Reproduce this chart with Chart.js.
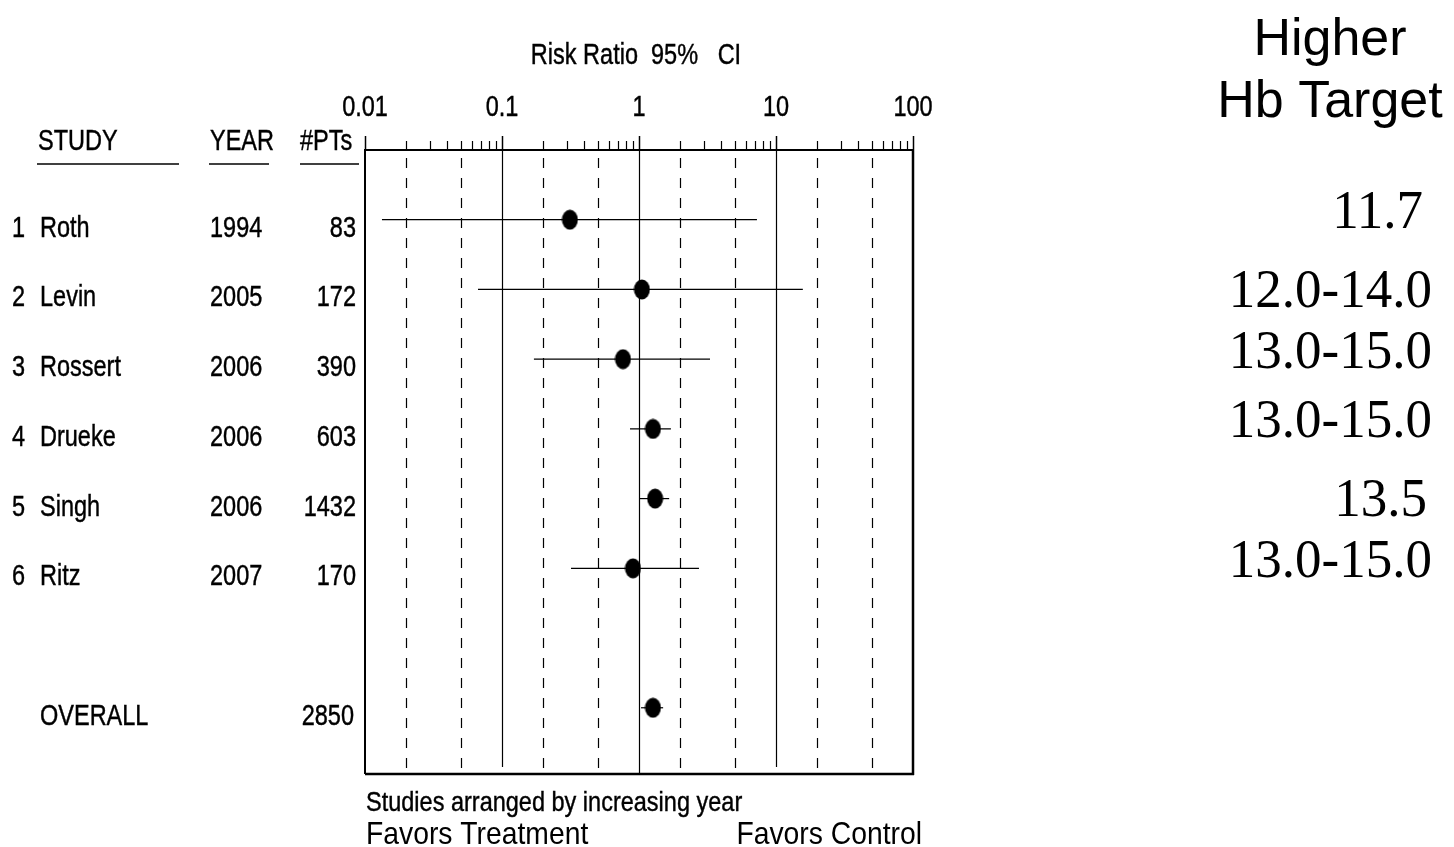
<!DOCTYPE html>
<html><head><meta charset="utf-8">
<script src="https://cdn.jsdelivr.net/npm/chart.js@4.4.1/dist/chart.umd.min.js"></script>
<style>html,body{margin:0;padding:0;background:#fff;overflow:hidden}#wrap{position:relative;width:1454px;height:847px}</style>
</head><body><div id="wrap"><canvas id="c" width="1454" height="847"></canvas></div>
<script>
// ---- data ----
const studies = ['Roth','Levin','Rossert','Drueke','Singh','Ritz'];
const years = [1994, 2005, 2006, 2006, 2006, 2007];
const patients = [83, 172, 390, 603, 1432, 170];
const riskRatio = [0.313, 1.05, 0.764, 1.265, 1.31, 0.904];
const ciLow = [0.0133, 0.0668, 0.171, 0.86, 1.0, 0.319];
const ciHigh = [7.26, 15.7, 3.3, 1.71, 1.66, 2.74];
const hbTargets = ['11.7', '12.0-14.0', '13.0-15.0', '13.0-15.0', '13.5', '13.0-15.0'];
const overallLabel = 'OVERALL';
const overallPatients = 2850;
const overallRR = [1.265];
const overallLow = [1.035];
const overallHigh = [1.5];
const tickValues = [0.01, 0.1, 1, 10, 100];
const tickLabels = ['0.01', '0.1', '1', '10', '100'];
const dashedLines = [0.02, 0.05, 0.2, 0.5, 2, 5, 20, 50];
const solidLines = [0.1, 1, 10];
const headers = ['STUDY', 'YEAR', '#PTs'];
const axisTitle = 'Risk Ratio  95%   CI';
const rightTitle = ['Higher', 'Hb Target'];
const footNote = 'Studies arranged by increasing year';
const favorsLeft = 'Favors Treatment';
const favorsRight = 'Favors Control';

// ---- layout ----
const SANS = '"Liberation Sans", Arial, sans-serif';
const SERIF = '"Liberation Serif", "Times New Roman", serif';
const condFont = '23.5px ' + SANS;
const condSY = 1.25;
const rowOf = i => i + 1;
const overallRow = 8;
const targetOffsets = [8, 18, 9, 8, 17, 9];
const targetRight = [1423, 1432, 1432, 1432, 1427, 1432];

function txt(ctx, s, x, y, align, font, sy, stroke) {
  ctx.save();
  ctx.font = font; ctx.textAlign = align; ctx.textBaseline = 'alphabetic';
  ctx.fillStyle = '#000';
  ctx.translate(x, y); ctx.scale(1, sy || 1);
  ctx.fillText(s, 0, 0);
  if (stroke) { ctx.strokeStyle = '#000'; ctx.lineWidth = stroke; ctx.strokeText(s, 0, 0); }
  ctx.restore();
}
function line(ctx, x1, y1, x2, y2, w, dash) {
  ctx.save();
  ctx.strokeStyle = '#000'; ctx.lineWidth = w;
  ctx.setLineDash(dash || []);
  ctx.beginPath(); ctx.moveTo(x1, y1); ctx.lineTo(x2, y2); ctx.stroke();
  ctx.restore();
}

// ellipse marker
const marker = document.createElement('canvas');
marker.width = 17; marker.height = 21;
(function () {
  const m = marker.getContext('2d');
  m.fillStyle = '#000';
  m.beginPath(); m.ellipse(8.5, 10.5, 8, 10, 0, 0, Math.PI * 2); m.fill();
})();

const ciDatasets = studies.map((s, i) => ({
  type: 'line', showLine: true, borderColor: '#000', borderWidth: 1.2, pointRadius: 0,
  data: [{x: ciLow[i], y: rowOf(i)}, {x: ciHigh[i], y: rowOf(i)}]
})).concat([{
  type: 'line', showLine: true, borderColor: '#000', borderWidth: 1.2, pointRadius: 0,
  data: [{x: overallLow[0], y: overallRow}, {x: overallHigh[0], y: overallRow}]
}]);

const pointData = riskRatio.map((v, i) => ({x: v, y: rowOf(i)})).concat([{x: overallRR[0], y: overallRow}]);

const forestPlugin = {
  id: 'forest',
  beforeDatasetsDraw(chart) {
    const ctx = chart.ctx, xs = chart.scales.x, a = chart.chartArea;
    solidLines.forEach(v => {
      const x = Math.round(xs.getPixelForValue(v)) + 0.5;
      line(ctx, x, a.top, x, v === 1 ? a.bottom : a.bottom - 7, 1.2);
    });
    dashedLines.forEach(v => {
      const x = Math.round(xs.getPixelForValue(v)) + 0.5;
      line(ctx, x, a.top + 8, x, a.bottom - 1, 1.2, [10, 10]);
    });
  },
  afterDatasetsDraw(chart) {
    const ctx = chart.ctx, xs = chart.scales.x, ys = chart.scales.y, a = chart.chartArea;
    const sw = 0.35;
    // frame
    line(ctx, a.left, a.top, a.left, a.bottom, 2);
    line(ctx, a.right, a.top, a.right, a.bottom + 1, 2.5);
    line(ctx, a.left, a.bottom, a.right + 1, a.bottom, 2.5);
    line(ctx, a.left - 1, a.top, a.right + 1, a.top, 2);
    // axis ticks
    for (let d = -2; d <= 1; d++) {
      for (let m = 2; m <= 9; m++) {
        const x = Math.round(xs.getPixelForValue(m * Math.pow(10, d))) + 0.5;
        line(ctx, x, a.top, x, a.top - 9, 1.2);
      }
    }
    tickValues.forEach((v, i) => {
      const x = Math.round(xs.getPixelForValue(v)) + 0.5;
      line(ctx, x, a.top, x, a.top - 14, 1.5);
      txt(ctx, tickLabels[i], xs.getPixelForValue(v), 116, 'center', condFont, condSY, sw);
    });
    txt(ctx, axisTitle, 636, 64, 'center', condFont, condSY, sw);
    // table headers
    txt(ctx, headers[0], 38, 150, 'left', condFont, condSY, sw);
    txt(ctx, headers[1], 210, 150, 'left', condFont, condSY, sw);
    txt(ctx, headers[2], 300, 150, 'left', condFont, condSY, sw);
    line(ctx, 37, 164, 179, 164, 1.5);
    line(ctx, 209, 164, 269, 164, 1.5);
    line(ctx, 300, 164, 359, 164, 1.5);
    // rows
    studies.forEach((s, i) => {
      const y = ys.getPixelForValue(rowOf(i)) + 17;
      txt(ctx, String(i + 1), 12, y, 'left', condFont, condSY, sw);
      txt(ctx, s, 40, y, 'left', condFont, condSY, sw);
      txt(ctx, String(years[i]), 210, y, 'left', condFont, condSY, sw);
      txt(ctx, String(patients[i]), 356, y, 'right', condFont, condSY, sw);
      txt(ctx, hbTargets[i], targetRight[i], ys.getPixelForValue(rowOf(i)) + targetOffsets[i], 'right', '53px ' + SERIF, 1.04);
    });
    const yo = ys.getPixelForValue(overallRow) + 17;
    txt(ctx, overallLabel, 40, yo, 'left', condFont, condSY, sw);
    txt(ctx, String(overallPatients), 354, yo, 'right', condFont, condSY, sw);
    // right title
    txt(ctx, rightTitle[0], 1330, 55, 'center', '52px ' + SANS, 1);
    txt(ctx, rightTitle[1], 1330, 117, 'center', '52px ' + SANS, 1);
    // footer
    txt(ctx, footNote, 366, 811, 'left', condFont, 1.15, sw);
    txt(ctx, favorsLeft, 366, 844, 'left', '28.3px ' + SANS, 1.1);
    txt(ctx, favorsRight, 922, 844, 'right', '28.3px ' + SANS, 1.1);
  }
};

new Chart(document.getElementById('c'), {
  type: 'scatter',
  data: {
    datasets: ciDatasets.concat([{
      type: 'scatter', data: pointData, pointStyle: marker, pointRadius: 8,
      backgroundColor: '#000', borderColor: '#000'
    }])
  },
  options: {
    responsive: false, animation: false, devicePixelRatio: 1,
    layout: {padding: {left: 365, right: 541, top: 150, bottom: 73}},
    scales: {
      x: {type: 'logarithmic', min: 0.01, max: 100, display: false},
      y: {type: 'linear', min: 0, max: 8.95, reverse: true, display: false}
    },
    plugins: {legend: {display: false}, tooltip: {enabled: false}}
  },
  plugins: [forestPlugin]
});
</script>
</body></html>
